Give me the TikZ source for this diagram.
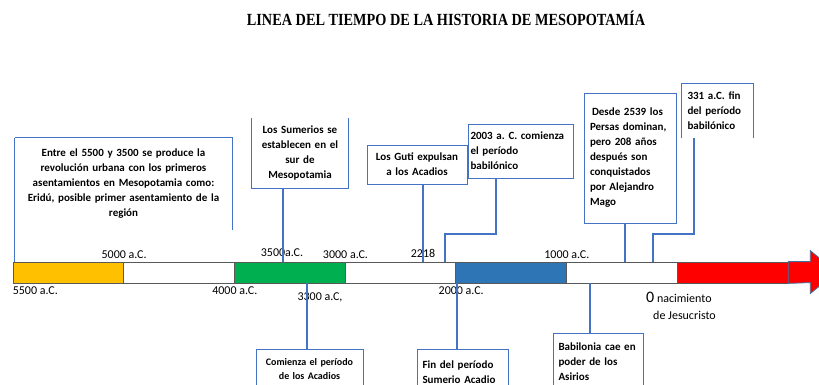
\documentclass[tikz,border=0pt]{standalone}
\usepackage{fontspec}
\usepackage{graphicx}
\setmainfont{Carlito}
\newfontfamily\titlefont{Liberation Serif}
\usetikzlibrary{positioning}
\frenchspacing

\definecolor{boxblue}{HTML}{4472C4}
\definecolor{segyellow}{HTML}{FFC000}
\definecolor{seggreen}{HTML}{00B050}
\definecolor{segblue}{HTML}{2E75B6}
\definecolor{segred}{HTML}{FF0000}
\definecolor{segline}{HTML}{595959}
\definecolor{arrowline}{HTML}{41719C}

\begin{document}
\begin{tikzpicture}[
	x=1pt, y=-1pt,
	seg/.style = {draw=segline, line width=0.8pt, minimum width=110.7pt, minimum height=21pt, inner sep=0pt},
	event/.style = {draw=boxblue, line width=0.8pt, font=\bfseries\fontsize{11}{15}\selectfont, inner sep=0pt, align=center},
	frame/.style = {draw=boxblue, line width=0.8pt},
	link/.style = {draw=boxblue, line width=1.3pt},
	year/.style = {font=\fontsize{12}{14}\selectfont, inner sep=1pt},
	node distance = 2pt
]
\useasboundingbox (0,0) rectangle (819,385);
\clip (0,0) rectangle (819,385);

\node[font=\titlefont\bfseries\fontsize{17}{20}\selectfont] (title) at (446,18) {\scalebox{0.84}[1]{LINEA DEL TIEMPO DE LA HISTORIA DE MESOPOTAMÍA}};

\foreach[count=\i] \c in {segyellow, white, seggreen, white, segblue, white, segred} {
	\node[seg, fill=\c] (s\i) at ({13+110.7*(\i-0.5)}, 272.5) {};
}
\draw[draw=arrowline, fill=segred, line width=0.8pt] (s7.north east) -- ++(22,0) -- ++(0,-11) -- ++(26,21.5) -- ++(-26,21.5) -- ++(0,-11) -- (s7.south east) -- cycle;

\node[year, above=of s1.north east] (y5000) {5000 a.C.};
\node[year] (y3500) at (282,253) {3500a.C.};
\node[year, above=of s3.north east] (y3000) {3000 a.C.};
\node[year] (y2218) at (423,253) {2218};
\node[year, above=of s5.north east] (y1000) {1000 a.C.};
\node[year, below right=2pt and -1pt of s1.south west] (y5500) {5500 a.C.};
\node[year, below=of s2.south east] (y4000) {4000 a.C.};
\node[year] (y3300) at (320,297) {3300 a.C,};
\node[year, below=of s4.south east, xshift=5pt] (y2000) {2000 a.C.};
\node[year, anchor=west] (zero) at (645,297) {{\fontsize{16}{16}\selectfont 0} nacimiento};
\node[year, anchor=west] (jesus) at (652,315) {de Jesucristo};

\node[event, draw=none, minimum width=217pt, minimum height=92pt, text width=210pt] (entre) at (123.5,184) {Entre el 5500 y 3500 se produce la\\ revolución urbana con los primeros\\ asentamientos en Mesopotamia como:\\ Eridú, posible primer asentamiento de la\\ región};
\node[event, draw=none, minimum width=96pt, minimum height=70pt, text width=92pt] (sumer) at (300,153) {Los Sumerios se\\ establecen en el\\ sur de\\ Mesopotamia};
\node[event, minimum width=100pt, minimum height=39pt, text width=96pt] (guti) at (417,164.5) {Los Guti expulsan\\ a los Acadios};
\node[event, minimum width=105pt, minimum height=54pt, text width=100pt, align=left] (babil) at (520.5,151) {2003 a. C. comienza\\ el período\\ babilónico};
\node[event, minimum width=92pt, minimum height=130pt, text width=80pt, align=left] (persas) at (630,158) {\hspace{2pt}Desde 2539 los\\ Persas dominan,\\ pero 208 años\\ después son\\ conquistados\\ por Alejandro\\ Mago};
\node[event, draw=none, minimum width=71pt, minimum height=54pt, text width=60pt, align=left] (finbab) at (717.5,111) {331 a.C. fin\\ del período\\ babilónico};

\node[event, minimum width=107pt, minimum height=40pt, text width=103pt, font=\bfseries\fontsize{10}{14}\selectfont] (acadios) at (309.5,369) {Comienza el período\\ de los Acadios};
\node[event, minimum width=91pt, minimum height=46pt, text width=80pt, align=left] (finsum) at (462.5,372) {Fin del período\\ Sumerio Acadio};
\node[event, minimum width=90pt, minimum height=58pt, text width=79pt, align=left] (asirios) at (598,362) {Babilonia cae en\\ poder de los\\ Asirios};

\draw[frame] (entre.south east) -- (entre.north east) -- (entre.north west);
\draw[frame] (sumer.north west) -- (sumer.south west) -- (sumer.south east) -- (sumer.north east);
\draw[frame] (finbab.south west) -- (finbab.north west) -- (finbab.north east) -- (finbab.south east);

\coordinate (k2003) at (445,234);
\coordinate (k331) at (653,234);

\draw[link] (entre.north west) -- (entre.north west |- s1.north);
\draw[link] ([xshift=-17pt]sumer.south) -- ([xshift=-17pt]sumer.south |- s3.north);
\draw[link] ([xshift=6pt]guti.south) -- ([xshift=6pt]guti.south |- s4.north);
\draw[link] ([xshift=-24.5pt]babil.south) |- (k2003) -- (k2003 |- s4.north);
\draw[link] ([xshift=-5pt]persas.south) -- ([xshift=-5pt]persas.south |- s6.north);
\draw[link] ([xshift=-23.5pt]finbab.south) |- (k331) -- (k331 |- s6.north);
\draw[link] ([xshift=-2.5pt]acadios.north |- s3.south) -- ([xshift=-2.5pt]acadios.north);
\draw[link] ([xshift=-5.5pt]finsum.north |- s4.south) -- ([xshift=-5.5pt]finsum.north);
\draw[link] ([xshift=-8pt]asirios.north |- s5.south) -- ([xshift=-8pt]asirios.north);

\end{tikzpicture}
\end{document}
